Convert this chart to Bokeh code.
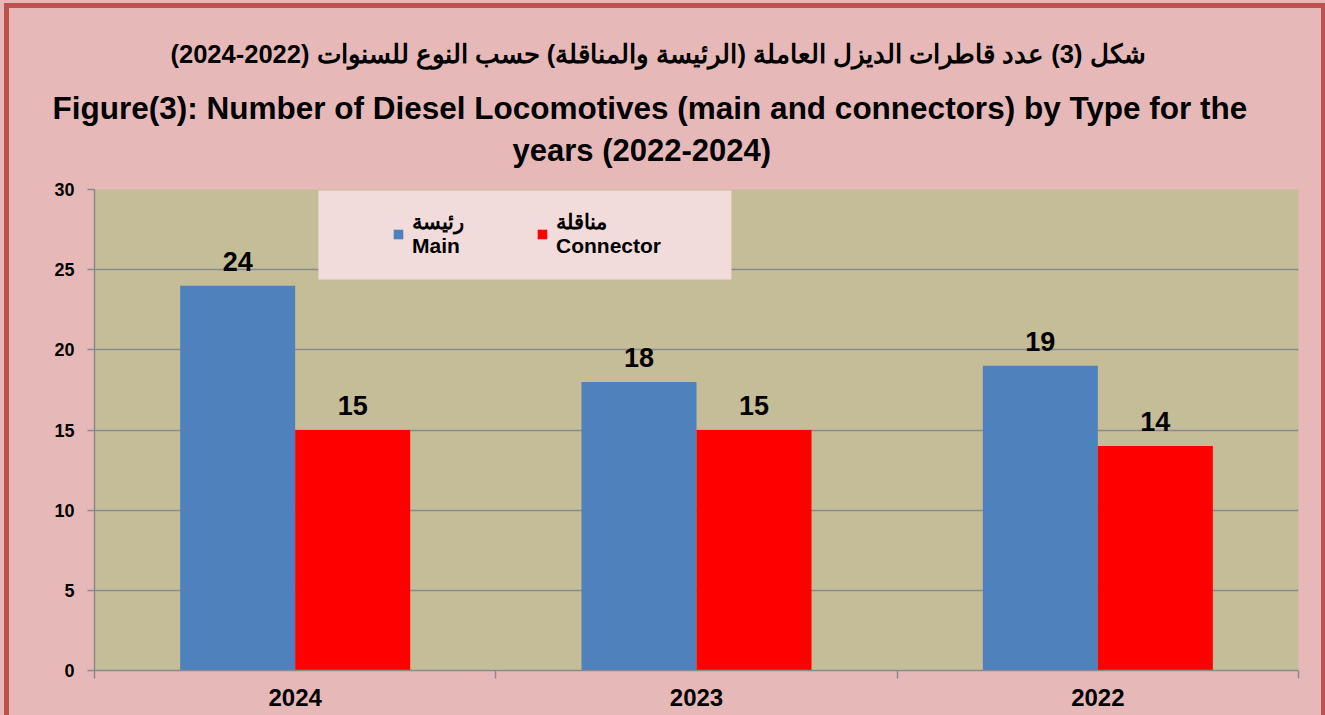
from bokeh.plotting import figure
from bokeh.models import (ColumnDataSource, FactorRange, LabelSet, Legend, LegendItem, Title,
                          LinearAxis, CategoricalAxis, FixedTicker, SingleIntervalTicker, BoxAnnotation)
from bokeh.core.properties import value
from bokeh.transform import dodge
from bokeh.embed import file_html
from bokeh.resources import INLINE

# ---- data ----
years = ["2024", "2023", "2022"]
main_vals = [24, 18, 19]
connector_vals = [15, 15, 14]
series_names = ["رئيسة\nMain", "مناقلة\nConnector"]
title_ar = "شكل (3) عدد قاطرات الديزل العاملة (الرئيسة والمناقلة) حسب النوع للسنوات (2022-2024)"
title_en_1 = "Figure(3): Number of Diesel Locomotives (main and connectors) by  Type for the"
title_en_2 = "years (2022-2024)"
y_ticks_interval = 5

FONT = "Liberation Sans"
BLUE = "#4F81BD"
RED = "#FF0000"
PINK = "#E6B9B8"
BORDER = "#C0504D"
PLOT_BG = "#C4BD97"
LEGEND_BG = "#F2DCDB"
GRID = "#8A8A8A"

src = ColumnDataSource(dict(
    year=years,
    main=main_vals,
    connector=connector_vals,
    main_txt=[str(v) for v in main_vals],
    conn_txt=[str(v) for v in connector_vals],
))

p = figure(width=1325, height=715, x_range=FactorRange(factors=years, range_padding=0),
           y_range=(0, 30), output_backend="svg", toolbar_location=None,
           x_axis_location=None, title=None,
           min_border_left=94, min_border_right=27, min_border_top=189, min_border_bottom=45)

p.border_fill_alpha = 0
p.background_fill_color = PLOT_BG
p.outline_line_color = None
p.styles = {
    "background-color": PINK,
    "box-shadow": (f"inset 0 3px 0 0 {PINK}, inset 4px 0 0 0 {PINK}, "
                   f"inset 0 8px 0 0 {BORDER}, inset 9px 0 0 0 {BORDER}, "
                   f"inset -4px 0 0 0 {BORDER}"),
}

# legend background panel (decoration, placed in plot coordinates)
p.add_layout(BoxAnnotation(left=0.558, right=1.587, top=29.94, bottom=24.39,
                           fill_color=LEGEND_BG, fill_alpha=1, line_color=None, level="underlay"))

w = 0.2866
r_main = p.vbar(x=dodge("year", -w / 2, range=p.x_range), top="main", width=w, source=src,
                fill_color=BLUE, line_color=None)
r_conn = p.vbar(x=dodge("year", w / 2, range=p.x_range), top="connector", width=w, source=src,
                fill_color=RED, line_color=None)

for col, txt, off in (("main", "main_txt", -w / 2), ("connector", "conn_txt", w / 2)):
    p.add_layout(LabelSet(x=dodge("year", off, range=p.x_range), y=col, text=txt, source=src,
                          y_offset=15, text_align="center", text_baseline="alphabetic",
                          text_font=value(FONT), text_font_size=value("27px"),
                          text_font_style="bold", text_color="black"))

# y axis
yax = p.yaxis[0]
yax.ticker = SingleIntervalTicker(interval=y_ticks_interval)
yax.axis_line_color = GRID
yax.axis_line_width = 1.5
yax.major_tick_line_color = GRID
yax.major_tick_line_width = 1.5
yax.major_tick_in = 0
yax.major_tick_out = 7
yax.minor_tick_line_color = None
yax.major_label_standoff = 13
yax.major_label_text_font = FONT
yax.major_label_text_font_size = "18px"
yax.major_label_text_font_style = "bold"
yax.major_label_text_color = "black"

p.xgrid.visible = False
p.ygrid.grid_line_color = GRID
p.ygrid.grid_line_width = 1.5

# x axis: ticks on category boundaries + category labels
tick_axis = LinearAxis(ticker=FixedTicker(ticks=[0, 1, 2, 3]),
                       major_label_overrides={0: "", 1: "", 2: "", 3: ""},
                       major_label_text_font_size="0px",
                       major_label_standoff=0, axis_line_color=GRID, axis_line_width=1.5,
                       major_tick_line_color=GRID, major_tick_line_width=1.5,
                       major_tick_in=0, major_tick_out=8, minor_tick_line_color=None)
p.add_layout(tick_axis, "below")
cat_axis = CategoricalAxis(axis_line_color=None, major_tick_line_color=None, major_tick_out=0,
                           major_tick_in=0, major_label_standoff=10,
                           major_label_text_font=FONT, major_label_text_font_size="24px",
                           major_label_text_font_style="bold", major_label_text_color="black")
p.add_layout(cat_axis, "below")

# titles (first added sits nearest the plot)
p.add_layout(Title(text=title_en_2, align="left", offset=418, standoff=43,
                   text_font=FONT, text_font_size="31px", text_font_style="bold",
                   text_color="black"), "above")
p.add_layout(Title(text=title_en_1, align="left", offset=-42, standoff=-33,
                   text_font=FONT, text_font_size="31.5px", text_font_style="bold",
                   text_color="black"), "above")
p.add_layout(Title(text=title_ar, align="left", offset=76, standoff=74,
                   text_font=FONT, text_font_size="25.5px", text_font_style="bold",
                   text_color="black"), "above")

legend = Legend(items=[LegendItem(label=series_names[0], renderers=[r_main]),
                       LegendItem(label=series_names[1], renderers=[r_conn])],
                location=(298, 412), orientation="horizontal",
                background_fill_alpha=0, border_line_color=None, spacing=72, margin=0,
                glyph_width=12, glyph_height=12, label_standoff=8,
                label_text_font=FONT, label_text_font_size="21px",
                label_text_line_height=1.3,
                label_text_font_style="bold", label_text_color="black")
p.add_layout(legend, "center")

open("out.html", "w").write(file_html(p, INLINE))
